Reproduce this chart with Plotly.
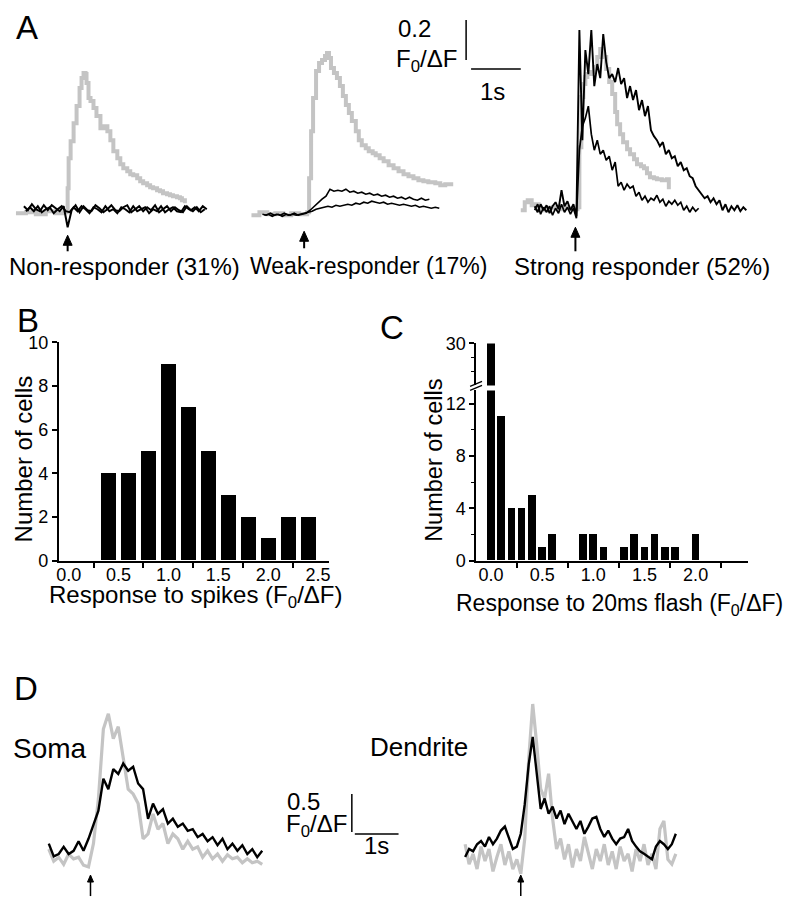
import numpy as np
import plotly.graph_objects as go

W, H = 793, 900
FONT = "Liberation Sans, Arial, sans-serif"
GRAY = "#c4c4c4"

# ---------------- DATA ----------------
# Panel A: time (s) from stimulus, response (F0/ΔF)
a1_gray_t = [-1.04, -0.84, -0.64, -0.44, -0.24, -0.08, -0.02, 0.0, 0.02, 0.06, 0.12, 0.18, 0.24, 0.28, 0.32, 0.36,
             0.38, 0.42, 0.46, 0.52, 0.58, 0.66, 0.72, 0.8, 0.86, 0.92, 1.0, 1.06, 1.12, 1.2, 1.26, 1.32, 1.4,
             1.46, 1.52, 1.6, 1.66, 1.72, 1.8, 1.86, 1.92, 2.0, 2.06, 2.12, 2.2, 2.26, 2.3, 2.36]
a1_gray_v = [-0.01, -0.005, -0.015, 0.0, -0.01, -0.005, 0.0, 0.115, 0.265, 0.35, 0.44, 0.525, 0.615, 0.665, 0.69,
             0.685, 0.64, 0.565, 0.55, 0.515, 0.475, 0.415, 0.425, 0.4, 0.355, 0.3, 0.265, 0.235, 0.215, 0.2,
             0.185, 0.18, 0.165, 0.15, 0.14, 0.13, 0.12, 0.115, 0.105, 0.1, 0.09, 0.085, 0.08, 0.075, 0.07,
             0.065, 0.055, 0.04]
a1_blk1_t0, a1_blk1_dt = -0.88, 0.08
a1_blk1_v = [0.025, 0.005, 0.035, 0.01, 0.0, 0.03, 0.005, 0.03, 0.015, 0.0, 0.025, -0.08, 0.005, 0.03, -0.005, 0.025,
             0.005, 0.0, 0.03, 0.015, -0.005, 0.01, 0.03, 0.005, 0.0, 0.02, 0.03, -0.005, 0.01, 0.025, 0.0, 0.02,
             0.005, 0.03, -0.005, 0.01, 0.025, 0.0, 0.02, 0.005, -0.005, 0.025, 0.005, 0.02, 0.0, 0.025, 0.01]
a1_blk2_t0, a1_blk2_dt = -0.84, 0.08
a1_blk2_v = [0.0, 0.02, 0.0, 0.025, -0.005, 0.01, 0.02, -0.01, 0.01, 0.025, 0.0, -0.005, 0.02, 0.0, 0.025, 0.01,
             -0.01, 0.02, 0.01, -0.005, 0.025, 0.0, 0.01, -0.01, 0.02, 0.01, -0.005, 0.025, 0.0, 0.01, 0.02,
             -0.01, 0.01, 0.0, 0.025, -0.005, 0.01, 0.02, 0.0, -0.005, 0.025, 0.01, 0.0, 0.02, -0.005, 0.01]

a2_gray_t = [-1.06, -0.9, -0.74, -0.58, -0.42, -0.26, -0.1, 0.06, 0.1, 0.14, 0.18, 0.24, 0.3, 0.36, 0.42, 0.46,
             0.5, 0.54, 0.6, 0.66, 0.72, 0.78, 0.84, 0.9, 0.96, 1.04, 1.1, 1.16, 1.24, 1.3, 1.38, 1.44, 1.52, 1.6,
             1.7, 1.8, 1.9, 2.0, 2.1, 2.2, 2.3, 2.4, 2.5, 2.64, 2.74, 2.84, 2.96]
a2_gray_v = [-0.02, -0.005, -0.015, -0.01, -0.02, -0.01, -0.015, -0.005, 0.165, 0.4, 0.565, 0.7, 0.74, 0.755,
             0.775, 0.79, 0.765, 0.715, 0.69, 0.665, 0.625, 0.575, 0.53, 0.49, 0.45, 0.4, 0.355, 0.33, 0.315, 0.3,
             0.29, 0.28, 0.265, 0.25, 0.23, 0.215, 0.2, 0.185, 0.175, 0.165, 0.155, 0.15, 0.145, 0.14, 0.13,
             0.135, 0.125]
a2_blk1_t0, a2_blk1_dt = -0.84, 0.08
a2_blk1_v = [-0.015, -0.02, -0.01, -0.02, -0.015, -0.025, -0.015, -0.02, -0.01, -0.02, -0.015, -0.01,
             0.005, 0.025, 0.045, 0.06, 0.075, 0.11, 0.1, 0.105, 0.1, 0.11, 0.095, 0.1, 0.09, 0.095, 0.085, 0.09,
             0.08, 0.085, 0.075, 0.08, 0.07, 0.075, 0.065, 0.07, 0.06, 0.07, 0.06, 0.055, 0.065, 0.055, 0.06]
a2_blk2_t0, a2_blk2_dt = -0.8, 0.08
a2_blk2_v = [-0.02, -0.015, -0.025, -0.015, -0.02, -0.01, -0.02, -0.015, -0.02, -0.015, -0.01, -0.005,
             0.0, 0.01, 0.015, 0.02, 0.025, 0.02, 0.03, 0.025, 0.03, 0.035, 0.03, 0.04, 0.035, 0.045, 0.04, 0.05,
             0.045, 0.04, 0.045, 0.035, 0.04, 0.035, 0.03, 0.035, 0.03, 0.025, 0.03, 0.02, 0.025, 0.02, 0.015,
             0.02, 0.015]

a3_gray_t = [-1.12, -1.04, -0.98, -0.9, -0.84, -0.76, -0.68, -0.58, -0.48, -0.38, -0.28, -0.18, -0.08, 0.02,
             0.06, 0.1, 0.14, 0.18, 0.22, 0.3, 0.36, 0.42, 0.48, 0.54, 0.6, 0.66, 0.72, 0.78, 0.82, 0.88, 0.94,
             1.02, 1.08, 1.16, 1.22, 1.3, 1.36, 1.42, 1.48, 1.56, 1.62, 1.72, 1.82, 1.86]
a3_gray_v = [0.0, 0.04, 0.05, 0.025, 0.03, 0.005, 0.0, 0.01, 0.015, 0.005, 0.015, 0.01, 0.005, 0.015, 0.315,
             0.565, 0.63, 0.665, 0.68, 0.69, 0.715, 0.765, 0.805, 0.765, 0.705, 0.64, 0.58, 0.49, 0.43, 0.38,
             0.34, 0.305, 0.28, 0.255, 0.23, 0.22, 0.21, 0.185, 0.165, 0.16, 0.155, 0.15, 0.155, 0.105]
a3_blk1_t0, a3_blk1_dt = -0.84, 0.06
a3_blk1_v = [0.02, -0.01, 0.03, 0.0, 0.025, -0.015, 0.02, 0.04, 0.005, 0.1, 0.02, 0.045, 0.0, 0.03, -0.03,
             0.9, 0.35, 0.8, 0.68, 0.9, 0.62, 0.73, 0.66, 0.88, 0.74, 0.66, 0.68, 0.64, 0.71, 0.63, 0.66, 0.56,
             0.62, 0.55, 0.6, 0.5, 0.55, 0.47, 0.52, 0.4, 0.37, 0.35, 0.32, 0.34, 0.28, 0.3, 0.26, 0.27, 0.22,
             0.24, 0.2, 0.21, 0.17, 0.16, 0.12, 0.1, 0.08, 0.06, 0.07, 0.04, 0.06, 0.03, 0.05, 0.0, 0.03, -0.01,
             0.02, 0.0, 0.025, -0.005, 0.015, 0.0]
a3_blk2_t0, a3_blk2_dt = -0.84, 0.06
a3_blk2_v = [0.0, 0.03, -0.02, 0.015, -0.01, 0.02, -0.025, 0.01, -0.015, 0.03, -0.01, 0.015, -0.02, 0.01, -0.04,
             0.3, 0.42, 0.46, 0.52, 0.38, 0.3, 0.35, 0.28, 0.3, 0.25, 0.27, 0.2, 0.24, 0.12, 0.14, 0.1, 0.13,
             0.11, 0.12, 0.07, 0.09, 0.05, 0.07, 0.04, 0.06, 0.05, 0.075, 0.04, 0.055, 0.02, 0.045, 0.03, 0.05,
             0.025, 0.04, 0.0, 0.02, -0.01, 0.015, -0.005, 0.01]

a_labels = ["Non-responder (31%)", "Weak-responder (17%)", "Strong responder (52%)"]

# Panel B: response to spikes histogram
b_bins = [0.4, 0.6, 0.8, 1.0, 1.2, 1.4, 1.6, 1.8, 2.0, 2.2, 2.4]
b_counts = [4, 4, 5, 9, 7, 5, 3, 2, 1, 2, 2]
b_xticks = [0.0, 0.5, 1.0, 1.5, 2.0, 2.5]
b_yticks = [0, 2, 4, 6, 8, 10]

# Panel C: response to 20 ms flash histogram
c_bins = [0.0, 0.1, 0.2, 0.3, 0.4, 0.5, 0.6, 0.9, 1.0, 1.1, 1.3, 1.4, 1.5, 1.6, 1.7, 1.8, 2.0]
c_counts = [30, 11, 4, 4, 5, 1, 2, 2, 2, 1, 1, 2, 1, 2, 1, 1, 2]
c_xticks = [0.0, 0.5, 1.0, 1.5, 2.0]
c_yticks = [0, 4, 8, 12]

# Panel D: soma / dendrite traces
d_soma_t0, d_soma_dt = -0.933, 0.111
d_soma_blk = [0.13, -0.03, 0.0, 0.09, 0.0, 0.04, 0.16, 0.04, 0.19, 0.38, 0.54, 0.94, 0.81, 1.06, 1.0, 1.13,
              1.04, 1.09, 0.88, 0.81, 0.44, 0.63, 0.5, 0.56, 0.38, 0.44, 0.34, 0.38, 0.29, 0.31, 0.21, 0.25,
              0.16, 0.21, 0.11, 0.19, 0.06, 0.13, 0.04, 0.11, 0.0, 0.06, -0.04, 0.04]
d_soma_gray = [0.06, -0.09, -0.04, -0.13, 0.0, -0.06, -0.04, -0.14, -0.16, 0.13, 0.69, 1.56, 1.75, 1.44, 1.59,
               1.19, 0.81, 0.75, 0.63, 0.19, 0.25, 0.5, 0.31, 0.38, 0.13, 0.25, 0.19, 0.06, 0.16, 0.06, 0.09,
               -0.04, 0.04, -0.06, 0.0, -0.09, -0.01, -0.06, -0.04, -0.11, -0.06, -0.11, -0.09, -0.13]
d_dend_t0, d_dend_dt = -1.222, 0.0889
d_dend_blk = [-0.1, 0.0, -0.03, 0.06, 0.1, 0.03, 0.15, 0.06, 0.13, 0.23, 0.28, 0.13, 0.0, 0.03, 0.19, 0.56,
              1.06, 1.4, 0.94, 0.5, 0.63, 0.44, 0.53, 0.38, 0.48, 0.31, 0.44, 0.35, 0.25, 0.35, 0.19, 0.28, 0.38,
              0.4, 0.25, 0.15, 0.23, 0.13, 0.06, 0.13, 0.15, 0.25, 0.1, 0.03, -0.03, -0.06, -0.1, -0.13, 0.03,
              0.1, 0.06, 0.0, 0.06, 0.19]
d_dend_gray = [0.06, -0.19, -0.06, -0.25, 0.03, -0.15, 0.0, -0.28, -0.1, 0.06, -0.2, -0.03, -0.25, -0.13,
               -0.31, 0.13, 1.13, 1.81, 1.31, 0.75, 0.63, 0.94, 0.38, 0.0, 0.13, -0.13, 0.06, -0.23, 0.0, -0.15,
               0.15, -0.06, -0.25, 0.0, -0.15, 0.06, -0.2, -0.03, -0.25, 0.03, -0.15, -0.06, -0.28, 0.0, -0.15,
               0.06, -0.2, -0.06, -0.25, 0.25, 0.35, -0.13, -0.19, -0.06]

# ---------------- LAYOUT HELPERS ----------------
# observed page offset/compression of the rendered plot area (reference px -> layout px)
OX, OY, SY = 10.0, 20.0, 0.9766


def lx(x):
    return x - OX


def ly(y):
    return (y - OY) / SY


def px(x):
    return lx(x) / W


def py(y):
    return 1 - ly(y) / H


def grid(t0, dt, v):
    return t0 + dt * np.arange(len(v))


fig = go.Figure()
layout = {}


def trace_axes(n, x0, y0, sx, sy):
    """invisible axes filling the page: data (0,0) sits at reference pixel (x0,y0)."""
    X0, Y0, SXs, SYs = lx(x0), ly(y0), sx, sy / SY
    layout[f"xaxis{n}"] = dict(domain=[0, 1], range=[-X0 / SXs, (W - X0) / SXs], visible=False,
                               anchor=f"y{n}", fixedrange=True)
    layout[f"yaxis{n}"] = dict(domain=[0, 1], range=[(Y0 - H) / SYs, Y0 / SYs], visible=False,
                               anchor=f"x{n}", fixedrange=True)


SA_X, SA_Y = 50, 200   # panel A: px per s, px per F0/ΔF
SD_X, SD_Y = 45, 80    # panel D
trace_axes(4, 67, 213, SA_X, SA_Y)
trace_axes(5, 305, 213, SA_X, SA_Y)
trace_axes(6, 579, 212, SA_X, SA_Y)
trace_axes(7, 90, 855, SD_X, SD_Y)
trace_axes(8, 522, 850, SD_X, SD_Y)


def line(t, v, n, color, width, shape="linear"):
    fig.add_trace(go.Scatter(x=t, y=v, mode="lines", xaxis=f"x{n}", yaxis=f"y{n}",
                             line=dict(color=color, width=width, shape=shape),
                             hoverinfo="skip", showlegend=False))


# Panel A traces
line(a1_gray_t, a1_gray_v, 4, GRAY, 4, "hv")
line(grid(a1_blk1_t0, a1_blk1_dt, a1_blk1_v), a1_blk1_v, 4, "black", 2.0)
line(grid(a1_blk2_t0, a1_blk2_dt, a1_blk2_v), a1_blk2_v, 4, "black", 2.0)
line(a2_gray_t, a2_gray_v, 5, GRAY, 4, "hv")
line(grid(a2_blk1_t0, a2_blk1_dt, a2_blk1_v), a2_blk1_v, 5, "black", 1.6)
line(grid(a2_blk2_t0, a2_blk2_dt, a2_blk2_v), a2_blk2_v, 5, "black", 1.6)
line(a3_gray_t, a3_gray_v, 6, GRAY, 4, "hv")
line(grid(a3_blk1_t0, a3_blk1_dt, a3_blk1_v), a3_blk1_v, 6, "black", 1.9)
line(grid(a3_blk2_t0, a3_blk2_dt, a3_blk2_v), a3_blk2_v, 6, "black", 1.7)

# Panel D traces
line(grid(d_soma_t0, d_soma_dt, d_soma_gray), d_soma_gray, 7, GRAY, 3.2)
line(grid(d_soma_t0, d_soma_dt, d_soma_blk), d_soma_blk, 7, "black", 2.4)
line(grid(d_dend_t0, d_dend_dt, d_dend_gray), d_dend_gray, 8, GRAY, 3.2)
line(grid(d_dend_t0, d_dend_dt, d_dend_blk), d_dend_blk, 8, "black", 2.4)

# Panel B histogram
fig.add_trace(go.Bar(x=b_bins, y=b_counts, width=0.15, marker=dict(color="black", line=dict(width=0)),
                     xaxis="x", yaxis="y", showlegend=False, hoverinfo="skip"))
# Panel C histogram (broken axis: lower + upper segment)
for ya in ("y2", "y3"):
    fig.add_trace(go.Bar(x=c_bins, y=c_counts, width=0.075, marker=dict(color="black", line=dict(width=0)),
                         xaxis="x2", yaxis=ya, showlegend=False, hoverinfo="skip"))

tickfont = dict(family=FONT, size=18, color="black")
common = dict(showline=True, linecolor="black", linewidth=1.5, showgrid=False, zeroline=False,
              tickfont=tickfont, fixedrange=True, ticks="outside", tickcolor="black", tickwidth=1.5)
minor_x = dict(tickmode="array", tickvals=[0.25, 0.75, 1.25, 1.75, 2.25], ticks="outside",
               ticklen=6, tickwidth=1.5, tickcolor="black", showgrid=False)


def dom_x(a, b):
    return [px(a), px(b)]


def dom_y(bottom, top):
    return [py(bottom), py(top)]


layout["xaxis"] = dict(common, domain=dom_x(58, 330), range=[-0.1, 2.61], anchor="y",
                       tickmode="array", tickvals=b_xticks, ticktext=[f"{v:.1f}" for v in b_xticks], ticks="",
                       ticklabelstandoff=-3, minor=minor_x)
layout["yaxis"] = dict(common, domain=dom_y(562, 344), range=[0, 10], anchor="x",
                       tickmode="array", tickvals=b_yticks, ticklen=5)
layout["xaxis2"] = dict(common, domain=dom_x(478, 752), range=[-0.146, 2.515], anchor="y2",
                        tickmode="array", tickvals=c_xticks, ticktext=[f"{v:.1f}" for v in c_xticks], ticks="",
                        ticklabelstandoff=-3, minor=minor_x)
layout["yaxis2"] = dict(common, domain=dom_y(562, 392), range=[0, 13], anchor="x2",
                        tickmode="array", tickvals=c_yticks, ticklen=5,
                        minor=dict(tickmode="array", tickvals=[2, 6, 10], ticks="outside", ticklen=3,
                                   tickwidth=1.2, tickcolor="black", showgrid=False))
layout["yaxis3"] = dict(common, domain=dom_y(387, 345), range=[27, 30], anchor="x2",
                        tickmode="array", tickvals=[30], ticklen=5,
                        minor=dict(tickmode="array", tickvals=[28, 29], ticks="outside", ticklen=3,
                                   tickwidth=1.2, tickcolor="black", showgrid=False))

# ---------------- TEXT ----------------
ann = []


def text(s, x, y, size=24, angle=0):
    ann.append(dict(text=s, x=px(x), y=py(y), xref="paper", yref="paper", showarrow=False,
                    xanchor="center", yanchor="middle", textangle=angle,
                    font=dict(family=FONT, size=size, color="black")))


F = "F<sub>0</sub>/ΔF"
text("A", 26, 29, 33)
text("B", 27, 322, 33)
text("C", 393, 329, 33)
text("D", 25, 690, 33)
text(a_labels[0], 124, 268, 24)
text(a_labels[1], 370, 268, 23)
text(a_labels[2], 645, 268, 24)
text("0.2", 416, 30)
text(F, 428, 62)
text("1s", 495, 93)
text("Number of cells", 23, 460, 24, -90)
text("Number of cells", 435, 462, 23.5, -90)
text("Response to spikes (" + F + ")", 196, 598, 24)
text("Response to 20ms flash (" + F + ")", 622, 606, 23)
text("Soma", 49, 750, 28)
text("Dendrite", 421, 748, 26)
text("0.5", 304, 803)
text(F, 317, 827)
text("1s", 378, 847)

# scale bars, stimulus arrows and axis-break marks
shapes = []


def seg(x0, y0, x1, y1, w=1.5):
    shapes.append(dict(type="line", xref="paper", yref="paper", x0=px(x0), y0=py(y0), x1=px(x1), y1=py(y1),
                       line=dict(color="black", width=w)))


def arrow(x, y_tip, y_base, head=10, half=4.5, w=2.0):
    seg(x, y_tip + head - 1, x, y_base, w)
    path = (f"M {px(x)},{py(y_tip)} L {px(x - half)},{py(y_tip + head)} "
            f"L {px(x + half)},{py(y_tip + head)} Z")
    shapes.append(dict(type="path", xref="paper", yref="paper", path=path,
                       fillcolor="black", line=dict(color="black", width=1)))


seg(468, 22, 468, 62)
seg(473, 71, 523, 71)
seg(353, 795, 353, 833)
seg(356, 835, 400, 835)
seg(472, 392, 484, 387, 1.3)
seg(472, 388, 484, 383, 1.3)

arrow(67, 237, 253)
arrow(305, 233, 250)
arrow(578, 229, 253)
arrow(90, 876, 897, 7, 3, 1.5)
arrow(523, 876, 897, 7, 3, 1.5)

layout.update(dict(width=W, height=H, margin=dict(l=0, r=0, t=0, b=0), paper_bgcolor="white",
                   plot_bgcolor="rgba(0,0,0,0)", annotations=ann, shapes=shapes, bargap=0,
                   showlegend=False))
fig.update_layout(**layout)
fig.write_html("out.html")
